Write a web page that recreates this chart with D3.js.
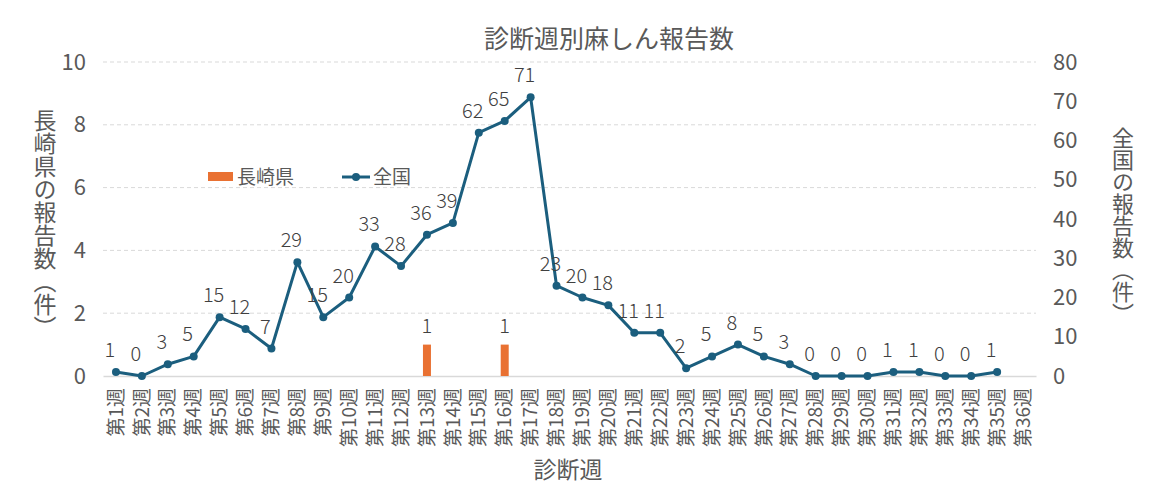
<!DOCTYPE html>
<html>
<head>
<meta charset="utf-8">
<script src="https://d3js.org/d3.v7.min.js"></script>
<style>
  body { margin: 0; background: #fff; }
  text { font-family: "Noto Sans CJK JP", "Noto Sans", sans-serif; }
</style>
</head>
<body>
<div id="chart"><svg width="1162" height="499"></svg></div>
<script>
// 診断週 1〜36
var weeks = d3.range(1, 37).map(function(i) { return "第" + i + "週" })
// 長崎県の報告数（件）
var nagasaki = [0,0,0,0,0,0,0,0,0,0,0,0,1,0,0,1,0,0,0,0,0,0,0,0,0,0,0,0,0,0,0,0,0,0,0,0]
// 全国の報告数（件） 第35週まで
var zenkoku = [1,0,3,5,15,12,7,29,15,20,33,28,36,39,62,65,71,23,20,18,11,11,2,5,8,5,3,0,0,0,1,1,0,0,1]
var leftTicks = [0,2,4,6,8,10]
var rightTicks = [0,10,20,30,40,50,60,70,80]

var svg = d3.select("#chart svg")
var grey = "#595959"
var labelGrey = "#404040"
var lineColor = "#1b5e7e"
var barColor = "#e97132"

var x = d3.scaleBand()
    .domain(weeks)
    .range([103, 1036])
var yLeft = d3.scaleLinear()
    .domain([0, 10])
    .range([376, 62])
var yRight = d3.scaleLinear()
    .domain([0, 80])
    .range([376, 62])
var cx = function(i) { return x(weeks[i]) + x.bandwidth() / 2 }

// 長崎県は0件の週は描かない
var barData = nagasaki
    .map(function(v, i) { return { i: i, v: v } })
    .filter(function(d) { return d.v > 0 })

// gridlines
svg.append("g")
    .selectAll("line")
    .data(leftTicks.slice(1))
    .enter()
    .append("line")
    .attr("x1", 103).attr("x2", 1036)
    .attr("y1", function(d) { return yLeft(d) })
    .attr("y2", function(d) { return yLeft(d) })
    .attr("stroke", "#d9d9d9")
    .attr("stroke-dasharray", "4,3")

// x axis
var gx = svg.append("g")
    .attr("transform", "translate(0,376)")
    .call(d3.axisBottom(x).tickSize(0).tickPadding(0))
gx.select(".domain").attr("stroke", "#d9d9d9").attr("stroke-width", 1.5)
gx.selectAll("text")
    .attr("fill", grey)
    .style("font-size", "19px")
    .attr("transform", "rotate(-90)")
    .attr("x", -12)
    .attr("y", 0)
    .attr("dy", "0.35em")
    .attr("text-anchor", "end")

// left axis
var gl = svg.append("g")
    .attr("transform", "translate(86,0)")
    .call(d3.axisLeft(yLeft).tickValues(leftTicks).tickSize(0).tickPadding(0))
gl.select(".domain").remove()
gl.selectAll("text").attr("fill", grey).style("font-size", "22px")

// right axis
var gr = svg.append("g")
    .attr("transform", "translate(1053,0)")
    .call(d3.axisRight(yRight).tickValues(rightTicks).tickSize(0).tickPadding(0))
gr.select(".domain").remove()
gr.selectAll("text").attr("fill", grey).style("font-size", "22px")

// bars (長崎県)
var bw = 8
svg.append("g")
    .selectAll("rect")
    .data(barData)
    .enter()
    .append("rect")
    .attr("x", function(d) { return cx(d.i) - bw / 2 })
    .attr("y", function(d) { return yLeft(d.v) })
    .attr("width", bw)
    .attr("height", function(d) { return yLeft(0) - yLeft(d.v) })
    .attr("fill", barColor)

svg.append("g")
    .selectAll("text")
    .data(barData)
    .enter()
    .append("text")
    .attr("x", function(d) { return cx(d.i) })
    .attr("y", function(d) { return yLeft(d.v) - 12 })
    .attr("text-anchor", "middle")
    .attr("fill", labelGrey)
    .style("font-size", "20px")
    .style("font-weight", 300)
    .text(function(d) { return d.v })

// line (全国)
var line = d3.line()
    .x(function(d, i) { return cx(i) })
    .y(function(d) { return yRight(d) })
svg.append("path")
    .datum(zenkoku)
    .attr("d", line)
    .attr("fill", "none")
    .attr("stroke", lineColor)
    .attr("stroke-width", 3)
    .attr("stroke-linejoin", "round")

svg.append("g")
    .selectAll("circle")
    .data(zenkoku)
    .enter()
    .append("circle")
    .attr("cx", function(d, i) { return cx(i) })
    .attr("cy", function(d) { return yRight(d) })
    .attr("r", 4)
    .attr("fill", lineColor)

svg.append("g")
    .selectAll("text")
    .data(zenkoku)
    .enter()
    .append("text")
    .attr("x", function(d, i) { return cx(i) - 6 })
    .attr("y", function(d) { return yRight(d) - 15 })
    .attr("text-anchor", "middle")
    .attr("fill", labelGrey)
    .style("font-size", "20px")
    .style("font-weight", 300)
    .text(function(d) { return d })

// legend
var lg = svg.append("g")
lg.append("rect").attr("x", 208).attr("y", 172).attr("width", 25).attr("height", 9).attr("fill", barColor)
lg.append("text").attr("x", 237).attr("y", 177).attr("dy", "0.35em")
    .attr("fill", grey).style("font-size", "19px").text("長崎県")
lg.append("line").attr("x1", 342).attr("x2", 370).attr("y1", 177).attr("y2", 177)
    .attr("stroke", lineColor).attr("stroke-width", 3)
lg.append("circle").attr("cx", 356).attr("cy", 177).attr("r", 4).attr("fill", lineColor)
lg.append("text").attr("x", 373).attr("y", 177).attr("dy", "0.35em")
    .attr("fill", grey).style("font-size", "19px").text("全国")

// titles
svg.append("text")
    .attr("x", 609).attr("y", 39).attr("dy", "0.35em")
    .attr("text-anchor", "middle")
    .attr("fill", grey)
    .style("font-size", "25px")
    .text("診断週別麻しん報告数")

svg.append("text")
    .attr("x", 568).attr("y", 470).attr("dy", "0.35em")
    .attr("text-anchor", "middle")
    .attr("fill", grey)
    .style("font-size", "23px")
    .text("診断週")

svg.append("text")
    .attr("x", 45).attr("y", 224)
    .attr("text-anchor", "middle")
    .style("writing-mode", "vertical-rl")
    .attr("fill", grey)
    .style("font-size", "23px")
    .text("長崎県の報告数（件）")

svg.append("text")
    .attr("x", 1123).attr("y", 226)
    .attr("text-anchor", "middle")
    .style("writing-mode", "vertical-rl")
    .attr("fill", grey)
    .style("font-size", "22px")
    .text("全国の報告数（件）")
</script>
</body>
</html>
